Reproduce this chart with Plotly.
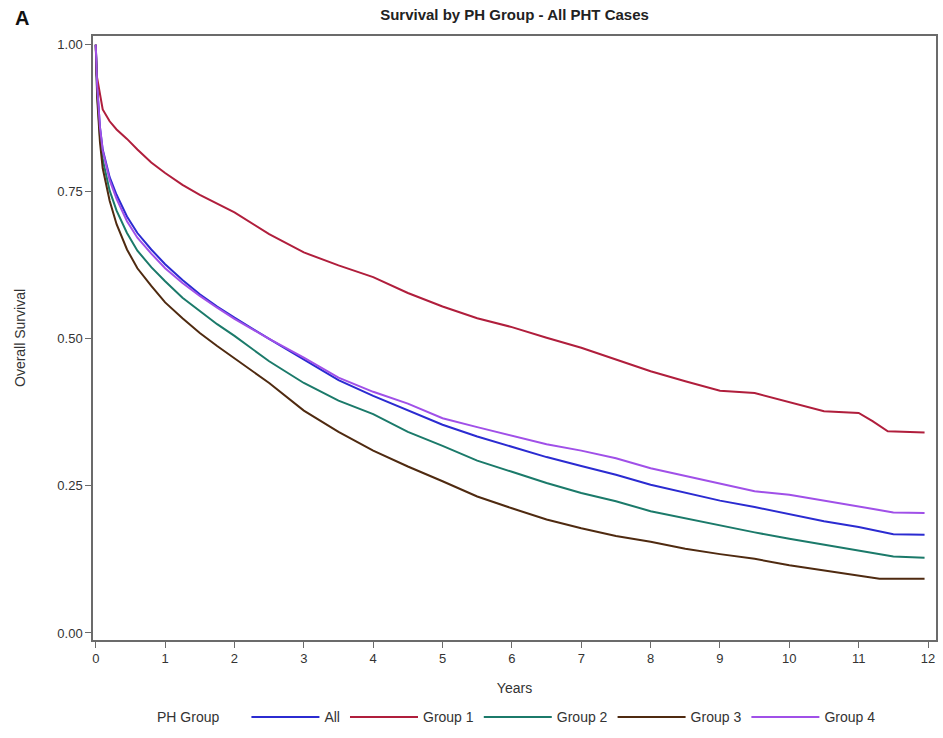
import plotly.graph_objects as go

series_names = ["All", "Group 1", "Group 2", "Group 3", "Group 4"]
colors = ["#2B2BD1", "#B01E3C", "#1B7A6A", "#4F2A10", "#A050E8"]

t_common = [0, 0.02, 0.06, 0.1, 0.2, 0.3, 0.45, 0.6, 0.8, 1.0, 1.25, 1.5, 1.75, 2.0,
            2.5, 3.0, 3.5, 4.0, 4.5, 5.0, 5.5, 6.0, 6.5, 7.0, 7.5, 8.0, 8.5, 9.0,
            9.5, 10.0, 10.5, 11.0, 11.5, 11.95]

surv_all = [1.0, 0.93, 0.86, 0.822, 0.775, 0.745, 0.708, 0.68, 0.652, 0.627, 0.6, 0.576,
            0.555, 0.536, 0.5, 0.465, 0.43, 0.403, 0.378, 0.354, 0.334, 0.316, 0.299,
            0.284, 0.269, 0.252, 0.238, 0.225, 0.214, 0.202, 0.19, 0.18, 0.168, 0.167]

surv_g4 = [1.0, 0.93, 0.86, 0.82, 0.77, 0.738, 0.70, 0.672, 0.645, 0.62, 0.595, 0.573,
           0.553, 0.534, 0.5, 0.468, 0.434, 0.41, 0.39, 0.365, 0.35, 0.335, 0.321,
           0.31, 0.297, 0.28, 0.267, 0.253, 0.241, 0.235, 0.225, 0.215, 0.205, 0.204]

surv_g2 = [1.0, 0.92, 0.845, 0.805, 0.752, 0.718, 0.68, 0.65, 0.622, 0.598, 0.57, 0.547,
           0.525, 0.505, 0.462, 0.425, 0.395, 0.372, 0.342, 0.318, 0.293, 0.274, 0.255,
           0.238, 0.224, 0.207, 0.195, 0.182, 0.171, 0.16, 0.15, 0.139, 0.13, 0.128]

t_g3 = [0, 0.02, 0.06, 0.1, 0.2, 0.3, 0.45, 0.6, 0.8, 1.0, 1.25, 1.5, 1.75, 2.0,
        2.5, 3.0, 3.5, 4.0, 4.5, 5.0, 5.5, 6.0, 6.5, 7.0, 7.5, 8.0, 8.5, 9.0,
        9.5, 10.0, 10.5, 11.0, 11.3, 11.95]
surv_g3 = [1.0, 0.91, 0.835, 0.79, 0.735, 0.695, 0.652, 0.62, 0.59, 0.562, 0.535, 0.51,
           0.488, 0.467, 0.425, 0.378, 0.342, 0.31, 0.283, 0.258, 0.232, 0.212, 0.193,
           0.178, 0.165, 0.155, 0.143, 0.134, 0.126, 0.115, 0.106, 0.098, 0.092, 0.092]

t_g1 = [0, 0.01, 0.1, 0.2, 0.3, 0.45, 0.6, 0.8, 1.0, 1.25, 1.5, 1.75, 2.0, 2.5, 3.0,
        3.5, 4.0, 4.5, 5.0, 5.5, 6.0, 6.5, 7.0, 7.5, 8.0, 8.5, 9.0, 9.5, 10.0, 10.5,
        11.0, 11.2, 11.42, 11.95]
surv_g1 = [1.0, 0.95, 0.89, 0.87, 0.856, 0.84, 0.822, 0.8, 0.782, 0.762, 0.745, 0.73,
           0.715, 0.678, 0.647, 0.625, 0.605, 0.578, 0.555, 0.535, 0.52, 0.502, 0.485,
           0.465, 0.445, 0.428, 0.412, 0.408, 0.392, 0.377, 0.374, 0.36, 0.343, 0.341]

x_ticks = list(range(0, 13))
y_ticks = [0.0, 0.25, 0.5, 0.75, 1.0]
y_tick_labels = ["0.00", "0.25", "0.50", "0.75", "1.00"]

data = [
    (t_common, surv_all),
    (t_g1, surv_g1),
    (t_common, surv_g2),
    (t_g3, surv_g3),
    (t_common, surv_g4),
]

font_family = "Liberation Sans, Arial, sans-serif"

fig = go.Figure()
for name, color, (tx, sy) in zip(series_names, colors, data):
    fig.add_trace(go.Scatter(x=tx, y=sy, mode="lines", name=name,
                             line=dict(color=color, width=2)))

axis_common = dict(showline=True, mirror=True, linecolor="#6b6b6b", linewidth=1.5,
                   showgrid=False, zeroline=False, ticks="outside", ticklen=6,
                   tickcolor="#6b6b6b", tickfont=dict(size=13, color="#333333"))

fig.update_layout(
    width=943, height=738,
    paper_bgcolor="white", plot_bgcolor="white",
    font=dict(family=font_family, color="#333333"),
    margin=dict(l=93, r=5, t=36, b=97),
    title=dict(text="<b>Survival by PH Group - All PHT Cases</b>", xref="paper", x=0.5,
               xanchor="center", y=0.98, yanchor="middle",
               font=dict(size=15, color="#222222")),
    xaxis=dict(range=[-0.04, 12.115], tickvals=x_ticks,
               title=dict(text="Years", font=dict(size=14, color="#333333"), standoff=18),
               **axis_common),
    yaxis=dict(range=[-0.012, 1.015], tickvals=y_ticks, ticktext=y_tick_labels,
               title=dict(text="Overall Survival", font=dict(size=14, color="#333333"), standoff=28),
               **axis_common),
    legend=dict(orientation="h", x=0.182, xanchor="left", y=-0.128, yanchor="middle",
                font=dict(size=14, color="#333333"), itemwidth=68),
    showlegend=True,
)

fig.add_annotation(text="PH Group", xref="paper", yref="paper", x=(155 - 93) / 845,
                   y=-0.128, xanchor="left", yanchor="middle", showarrow=False,
                   font=dict(size=14, color="#333333", family=font_family))

fig.add_annotation(text="<b>A</b>", xref="paper", yref="paper", x=-0.084, y=1.03,
                   xanchor="center", yanchor="middle", showarrow=False,
                   font=dict(size=20, color="#111111", family=font_family))

fig.write_html("out.html")
